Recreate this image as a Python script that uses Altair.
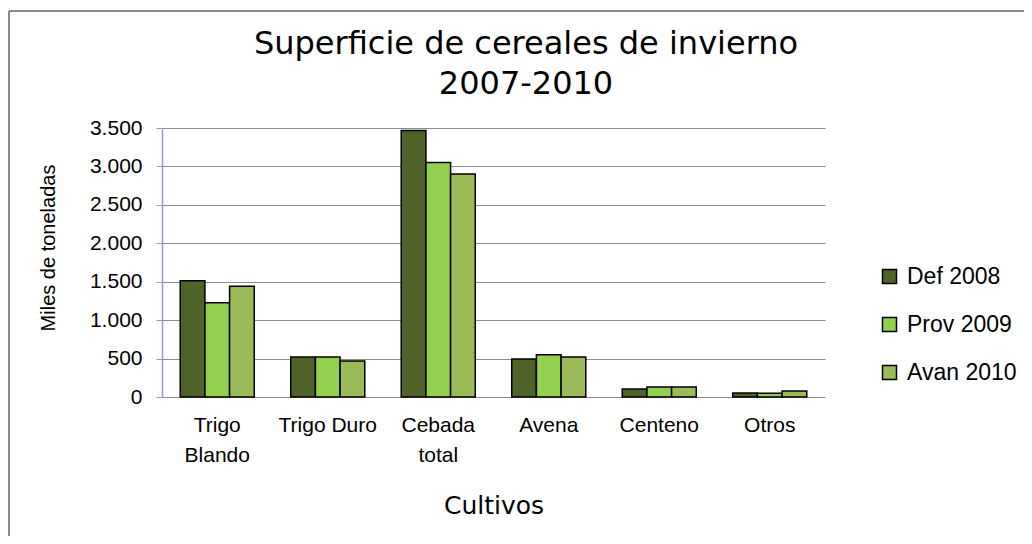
import altair as alt
import pandas as pd

cultivos = ["Trigo Blando", "Trigo Duro", "Cebada total", "Avena", "Centeno", "Otros"]
series = ["Def 2008", "Prov 2009", "Avan 2010"]
def_2008 = [1513, 522, 3469, 495, 104, 52]
prov_2009 = [1226, 520, 3052, 550, 130, 50]
avan_2010 = [1440, 470, 2900, 522, 130, 78]
colors = ["#4F6228", "#92D050", "#9BBB59"]
y_ticks = [0, 500, 1000, 1500, 2000, 2500, 3000, 3500]
title_lines = ["Superficie de cereales de invierno", "2007-2010"]

rows = []
for s, vals in zip(series, [def_2008, prov_2009, avan_2010]):
    for c, v in zip(cultivos, vals):
        rows.append({"Cultivo": c, "Serie": s, "Valor": v})
df = pd.DataFrame(rows)

W, H = 663, 269

bars = alt.Chart(df).mark_bar(stroke="black", strokeWidth=1.5, opacity=1).encode(
    x=alt.X(
        "Cultivo:N",
        sort=cultivos,
        scale=alt.Scale(paddingInner=0.33, paddingOuter=0.165),
        axis=alt.Axis(
            title="Cultivos",
            labelAngle=0,
            labelFont="Liberation Sans",
            labelFontSize=21,
            labelColor="black",
            labelLineHeight=30,
            labelPadding=17,
            labelExpr="datum.label == 'Trigo Blando' ? ['Trigo', 'Blando'] : datum.label == 'Cebada total' ? ['Cebada', 'total'] : datum.label",
            ticks=False,
            domain=False,
            titleFont="DejaVu Sans",
            titleFontSize=25,
            titleFontWeight="normal",
            titleColor="black",
            titlePadding=28,
        ),
    ),
    xOffset=alt.XOffset("Serie:N", sort=series),
    y=alt.Y(
        "Valor:Q",
        scale=alt.Scale(domain=[0, 3500], nice=False),
        axis=alt.Axis(
            title="Miles de toneladas",
            values=y_ticks,
            labelExpr="replace(format(datum.value, ','), ',', '.')",
            labelFont="Liberation Sans",
            labelFontSize=21,
            labelColor="black",
            labelPadding=14,
            tickColor="#9a9ac8",
            tickSize=6,
            domainColor="#9a9ac8",
            domainWidth=1.5,
            gridColor="#8c8c8c",
            gridWidth=1.2,
            titleFont="Liberation Sans",
            titleFontSize=20,
            titleFontWeight="normal",
            titleColor="black",
            titleX=-114,
            titleY=119.5,
            titleAngle=-90,
            titleAlign="center",
            titleBaseline="middle",
        ),
    ),
    color=alt.Color(
        "Serie:N",
        sort=series,
        scale=alt.Scale(domain=series, range=colors),
        legend=alt.Legend(
            title=None,
            orient="none",
            legendX=716,
            legendY=137,
            symbolType="square",
            symbolSize=196,
            symbolStrokeColor="black",
            symbolStrokeWidth=1.5,
            symbolOpacity=1,
            labelFont="Liberation Sans",
            labelFontSize=23,
            labelColor="black",
            labelOffset=6,
            rowPadding=24,
        ),
    ),
)

one = pd.DataFrame({"a": [0]})
border_top = alt.Chart(one).mark_rule(color="#8a8a8a", strokeWidth=2).encode(
    x=alt.value(-153), x2=alt.value(W + 250), y=alt.value(-117)
)
border_left = alt.Chart(one).mark_rule(color="#8a8a8a", strokeWidth=2).encode(
    x=alt.value(-153), y=alt.value(-117), y2=alt.value(H + 200)
)

title_layers = []
for line, yb in zip(title_lines, [-74, -34]):
    title_layers.append(
        alt.Chart(one).mark_text(
            font="DejaVu Sans", fontSize=32, color="black",
            align="center", baseline="alphabetic",
        ).encode(x=alt.value(364), y=alt.value(yb), text=alt.value(line))
    )

chart = alt.layer(border_top, border_left, *title_layers, bars).properties(
    width=W,
    height=H,
    autosize=alt.AutoSizeParams(type="none"),
    padding={"left": 154, "top": 120, "right": 199, "bottom": 139},
    background="white",
).configure_view(stroke=None)

chart.save("out.html", embed_options={"renderer": "svg", "actions": False})
